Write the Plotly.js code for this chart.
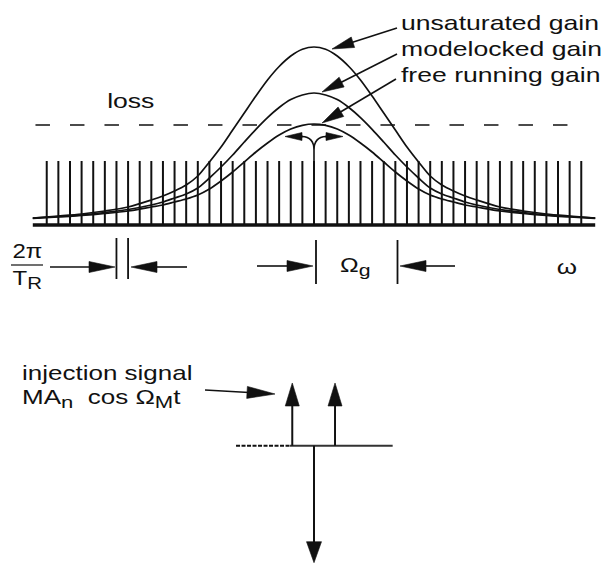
<!DOCTYPE html>
<html><head><meta charset="utf-8">
<script src="https://cdn.plot.ly/plotly-3.0.1.min.js"></script>
<style>html,body{margin:0;padding:0;background:#fff;overflow:hidden}</style>
</head><body><div id="chart" style="width:606px;height:564px"></div>
<script>
// ---------------- data ----------------
const combModes = [-23,-22,-21,-20,-19,-18,-17,-16,-15,-14,-13,-12,-11,-10,-9,-8,-7,-6,-5,-4,-3,-2,-1,0,1,2,3,4,5,6,7,8,9,10,11,12,13,14,15,16,17,18,19,20,21,22,23];
const combHeight = 0.64;
const gainX = [-24.2,-22,-20,-18,-16,-14,-13,-12,-11,-10,-9,-8,-7,-6,-5,-4,-3,-2,-1,0,1,2,3,4,5,6,7,8,9,10,11,12,13,14,16,18,20,22,24.2];
const unsaturatedGain = [0.07,0.09,0.11,0.14,0.18,0.25,0.29,0.34,0.40,0.49,0.63,0.78,0.95,1.12,1.29,1.45,1.585,1.69,1.757,1.78,1.757,1.69,1.585,1.45,1.29,1.12,0.95,0.78,0.63,0.49,0.40,0.34,0.29,0.25,0.18,0.14,0.11,0.09,0.07];
const modelockedGain = [0.068,0.085,0.10,0.125,0.155,0.20,0.23,0.27,0.31,0.37,0.47,0.58,0.70,0.83,0.957,1.074,1.175,1.254,1.30,1.32,1.30,1.254,1.175,1.074,0.957,0.83,0.70,0.58,0.47,0.37,0.31,0.27,0.23,0.20,0.155,0.125,0.10,0.085,0.068];
const freeRunningGain = [0.065,0.08,0.095,0.115,0.14,0.18,0.20,0.23,0.26,0.30,0.36,0.44,0.53,0.63,0.73,0.82,0.90,0.96,0.997,1.01,0.997,0.96,0.90,0.82,0.73,0.63,0.53,0.44,0.36,0.30,0.26,0.23,0.20,0.18,0.14,0.115,0.095,0.08,0.065];
const lossLevel = 1.0;
const lossX = [-23.97, 23.0];
const baselineX = [-24.2, 24.2];
// injection-signal diagram (offsets in mode units, amplitudes relative to carrier)
const sidebandOffsets = [-1.87, 1.81];
const sidebandAmps = [0.536, 0.536];
const carrierOffsets = [0];
const carrierAmps = [-1];
const signalAxisDashedX = [-6.71, -2.07];
const signalAxisSolidX = [-2.07, 6.77];

// ---------------- layout mapping ----------------
const W = 606, H = 564;
const X0 = 314, SX = 11.62, Y0 = 225, SY = 100, Y20 = 445.7, SY2 = 117;
const toX = px => (px - X0) / SX;
const toY = py => (Y0 - py) / SY;
const fromX = x => X0 + x * SX;
const fromY = y => Y0 - y * SY;
const fromY2 = v => Y20 - v * SY2;

const BLACK = '#111';
const shapes = [];
function arrow(tx, ty, hx, hy, len, wid, lw) {
  const dx = hx - tx, dy = hy - ty, L = Math.hypot(dx, dy), ux = dx / L, uy = dy / L;
  const bx = hx - ux * len, by = hy - uy * len, nx = -uy, ny = ux;
  shapes.push({type: 'line', xref: 'x', yref: 'y', x0: toX(tx), y0: toY(ty), x1: toX(bx + ux * 2), y1: toY(by + uy * 2),
    line: {color: BLACK, width: lw}});
  shapes.push({type: 'path', xref: 'x', yref: 'y',
    path: `M${toX(hx)},${toY(hy)} L${toX(bx + nx * wid / 2)},${toY(by + ny * wid / 2)} L${toX(bx - nx * wid / 2)},${toY(by - ny * wid / 2)} Z`,
    fillcolor: BLACK, line: {color: BLACK, width: 0.6}});
}
function vbar(px, py0, py1) {
  shapes.push({type: 'line', xref: 'x', yref: 'y', x0: toX(px), x1: toX(px), y0: toY(py0), y1: toY(py1), line: {color: BLACK, width: 1.8}});
}

// label arrows
arrow(397, 28, 332, 49, 22, 11, 1.6);
arrow(397, 54, 322, 92, 22, 11, 1.6);
arrow(396, 79, 322, 123, 22, 11, 1.6);
// fork at centre of free-running gain
shapes.push({type: 'path', xref: 'x', yref: 'y',
  path: `M${toX(314)},${toY(162)} L${toX(314)},${toY(150)} Q${toX(314)},${toY(137)} ${toX(302)},${toY(136.5)} M${toX(314)},${toY(150)} Q${toX(314)},${toY(137)} ${toX(326)},${toY(136.5)}`,
  line: {color: BLACK, width: 1.6}});
arrow(303, 136.5, 285, 136.5, 17, 8, 1.6);
arrow(325, 136.5, 343, 136.5, 17, 8, 1.6);
// 2pi/T_R spacing marks
vbar(fromX(-17), 238, 279);
vbar(fromX(-16), 238, 279);
arrow(50, 267, 115, 267, 26, 11, 1.6);
arrow(187, 267, 131, 267, 26, 11, 1.6);
shapes.push({type: 'line', xref: 'x', yref: 'y', x0: toX(11), x1: toX(43), y0: toY(265), y1: toY(265), line: {color: BLACK, width: 1.2}});
// Omega_g marks
vbar(316, 240, 284);
vbar(397.5, 240, 284);
arrow(257, 266, 313, 266, 26, 11, 1.6);
arrow(455, 266, 400, 266, 26, 11, 1.6);
// injection label arrow
arrow(205, 390, 275, 394, 28, 12, 1.6);
// injection signal arrows from data
sidebandOffsets.forEach((o, i) => arrow(fromX(o), fromY2(0), fromX(o), fromY2(sidebandAmps[i]), 23, 14, 2));
carrierOffsets.forEach((o, i) => arrow(fromX(o), fromY2(0), fromX(o), fromY2(carrierAmps[i]), 21, 15, 2));

// ---------------- traces ----------------
const traces = [];
traces.push({x: combModes.flatMap(n => [n, n, null]), y: combModes.flatMap(() => [0, combHeight, null]),
  mode: 'lines', line: {color: BLACK, width: 2}, hoverinfo: 'skip'});
traces.push({x: baselineX, y: [0, 0], mode: 'lines', line: {color: BLACK, width: 3.5}});
traces.push({x: lossX, y: [lossLevel, lossLevel], mode: 'lines', line: {color: BLACK, width: 1.7, dash: '14.5px,20px'}});
[unsaturatedGain, modelockedGain, freeRunningGain].forEach(g =>
  traces.push({x: gainX, y: g, mode: 'lines', line: {color: BLACK, width: 1.7, shape: 'spline', smoothing: 0.8}}));
traces.push({x: signalAxisDashedX, y: [0, 0], yaxis: 'y2', mode: 'lines', line: {color: BLACK, width: 2, dash: '4px,1.5px'}});
traces.push({x: signalAxisSolidX, y: [0, 0], yaxis: 'y2', mode: 'lines', line: {color: '#333', width: 2}});

// ---------------- text ----------------
const F = {family: 'Liberation Sans, Arial, sans-serif', size: 20, color: BLACK};
const SUB = s => `<sub><span style="font-size:17px">${s}</span></sub>`;
function txt(px, py, text, anchor, size) {
  return {xref: 'x', yref: 'y', x: toX(px), y: toY(py), text, showarrow: false, xanchor: anchor || 'left', yanchor: 'middle',
    align: anchor || 'left', font: Object.assign({}, F, size ? {size} : {})};
}
const annotations = [
  txt(399, 23, 'unsaturated gain'),
  txt(399, 49, 'modelocked gain'),
  txt(399, 75, 'free running gain'),
  txt(131, 101, 'loss', 'center'),
  txt(27, 251, '2π', 'center'),
  txt(27, 280, 'T' + SUB('R'), 'center'),
  txt(355, 267, 'Ω' + SUB('g'), 'center'),
  txt(567, 267, 'ω', 'center'),
  txt(20, 373, 'injection signal'),
  txt(20, 399, 'MA' + SUB('n') + '  cos Ω' + SUB('M') + 't'),
];
// the original lettering is set wider than the glyphs' natural width
const textStretch = [1.33, 1.33, 1.33, 1.33, 1.2, 1.2, 1.25, 1.3, 1.3, 1.3];

const layout = {
  width: W, height: H, margin: {l: 0, r: 0, t: 0, b: 0}, showlegend: false,
  paper_bgcolor: '#fff', plot_bgcolor: '#fff',
  xaxis: {range: [toX(0), toX(W)], visible: false, fixedrange: true},
  yaxis: {range: [toY(H), toY(0)], visible: false, fixedrange: true},
  yaxis2: {range: [(Y20 - H) / SY2, Y20 / SY2], overlaying: 'y', visible: false, fixedrange: true},
  shapes, annotations
};
Plotly.newPlot('chart', traces, layout, {staticPlot: true, displayModeBar: false}).then(gd => {
  gd.querySelectorAll('g.annotation').forEach(g => {
    const i = +g.getAttribute('data-index');
    const t = g.querySelector('text.annotation-text');
    if (!t) return;
    const a = annotations[i];
    t.style.transformBox = 'fill-box';
    t.style.transformOrigin = (a.xanchor === 'left' ? '0%' : '50%') + ' 50%';
    t.style.transform = `scaleX(${textStretch[i]})`;
  });
});
</script></body></html>
